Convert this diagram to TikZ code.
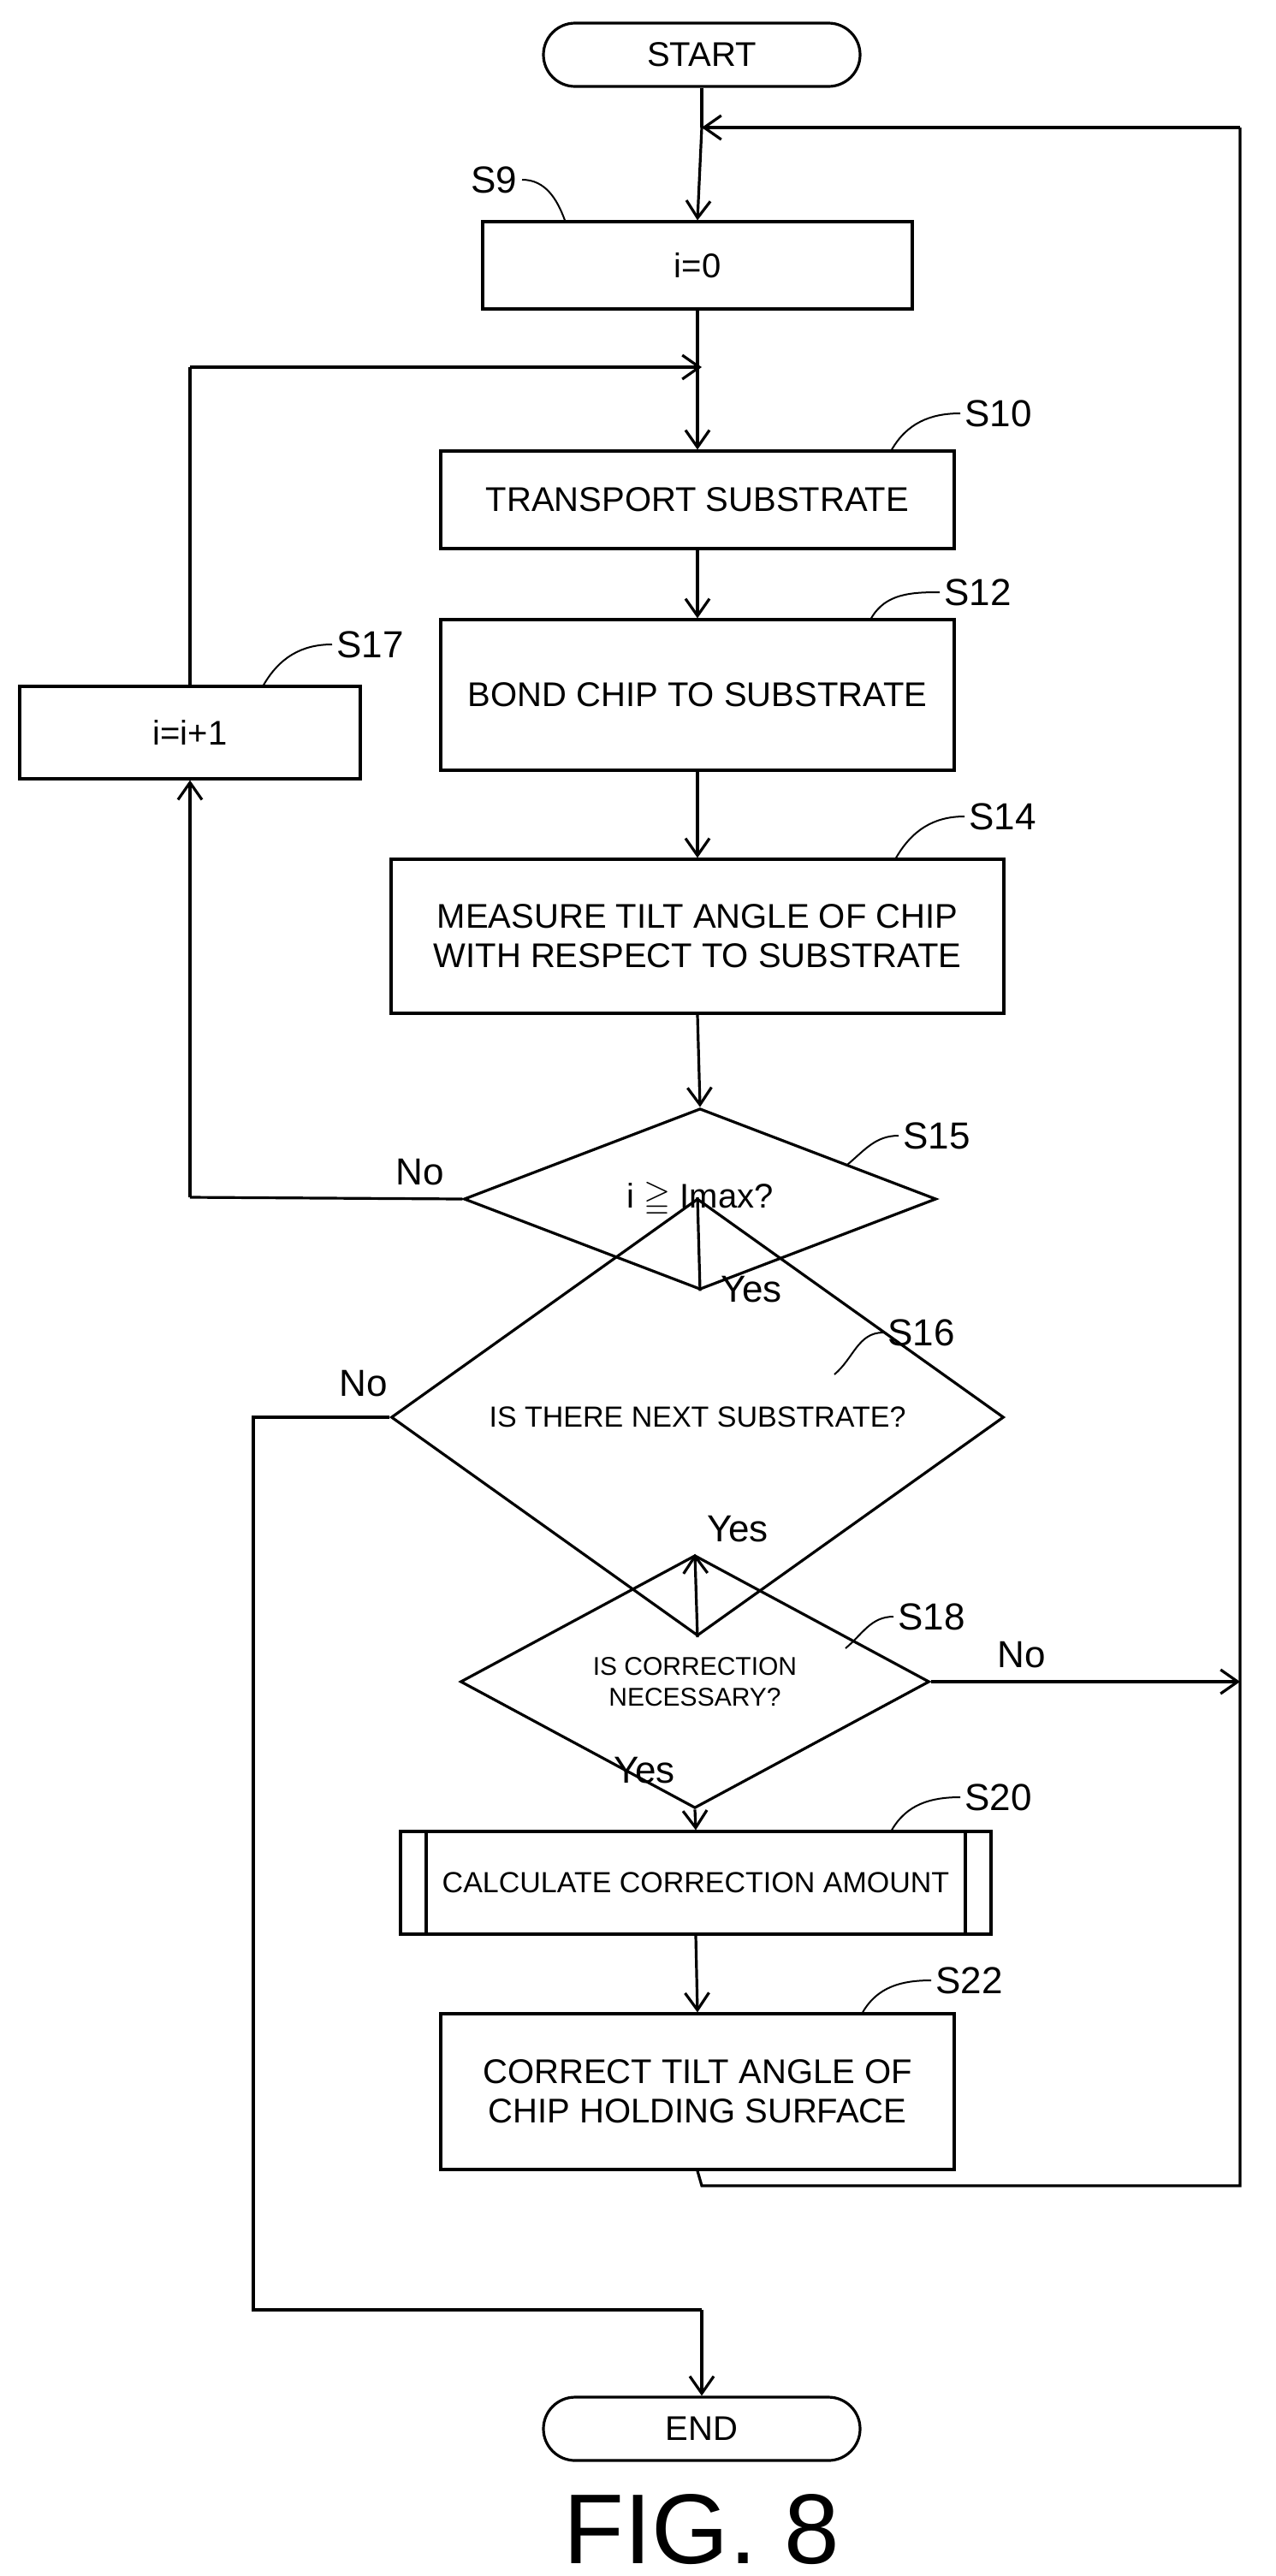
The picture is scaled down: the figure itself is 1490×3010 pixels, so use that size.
\documentclass[tikz,border=0pt]{standalone}
\usepackage{amssymb}
\usepackage{fontspec}
\setmainfont{Liberation Sans}
\usetikzlibrary{shapes.geometric,shapes.misc,arrows.meta}
\begin{document}
\begin{tikzpicture}[x=0.5pt,y=-0.5pt,line width=1.6pt,
 every node/.style={font=\fontsize{20}{23}\selectfont},
 box/.style={draw,rectangle,align=center,inner sep=0pt},
 term/.style={draw,rounded rectangle,inner sep=0pt,minimum width=185pt,minimum height=37pt},
 dia/.style={draw,diamond,inner sep=0pt,align=center},
 arr/.style={-{Straight Barb[length=10pt,width=14pt]}},
 lbl/.style={font=\fontsize{22}{24}\selectfont,anchor=west,inner sep=2pt},
 lead/.style={line width=1pt},
 yn/.style={font=\fontsize{22}{24}\selectfont}]
\useasboundingbox (0,0) rectangle (1490,3010);
\node[term] (start) at (820,64) {START};
\node[box,minimum width=251pt,minimum height=51pt] (s9) at (815,310) {i=0};
\node[box,minimum width=300pt,minimum height=57pt] (s10) at (815,584) {TRANSPORT SUBSTRATE};
\node[box,minimum width=300pt,minimum height=88pt] (s12) at (815,812) {BOND CHIP TO SUBSTRATE};
\node[box,minimum width=358pt,minimum height=90pt] (s14) at (815,1094) {MEASURE TILT ANGLE OF CHIP\\WITH RESPECT TO SUBSTRATE};
\node[dia,minimum width=276pt,minimum height=80pt] (s15) at (818,1401) {i $\geqq$ Imax?};
\node[box,minimum width=199pt,minimum height=54pt] (s17) at (222,856) {i=i+1};
\node[dia,minimum width=358pt,minimum height=91pt,font=\fontsize{17}{19}\selectfont] (s16) at (815,1656) {IS THERE NEXT SUBSTRATE?};
\node[dia,minimum width=274pt,minimum height=82pt,font=\fontsize{15}{18}\selectfont] (s18) at (812,1965) {IS CORRECTION\\NECESSARY?};
\node[box,minimum width=345pt,minimum height=60pt,font=\fontsize{17}{19}\selectfont] (s20) at (813,2200) {CALCULATE CORRECTION AMOUNT};
\coordinate (p1t) at (498,2139); \coordinate (p1b) at (498,2260);
\coordinate (p2t) at (1128,2139); \coordinate (p2b) at (1128,2260);
\draw (p1t) -- (p1b) (p2t) -- (p2b);
\node[box,minimum width=300pt,minimum height=91pt] (s22) at (815,2444) {CORRECT TILT ANGLE OF\\CHIP HOLDING SURFACE};
\node[term] (end) at (820,2838) {END};
\node[font=\fontsize{58}{62}\selectfont] (fig) at (820,2956) {FIG. 8};
% coordinates
\coordinate (top) at (820,149);
\coordinate (rt) at (1449,149);
\coordinate (loop) at (820,429);
\coordinate (lx) at (222,429);
\coordinate (nx15) at (222,1399);
\coordinate (lx16) at (296,1656);
\coordinate (bot16) at (296,2699);
\coordinate (endin) at (820,2699);
\coordinate (s22b) at (820,2554);
\coordinate (rb) at (1449,2554);
\coordinate (s18r) at (1449,1965);
% flow
\draw (start.south) -- (top);
\draw[arr] (top) -- (s9.north);
\draw[arr] (s9.south) -- (s10.north);
\draw[arr] (s10.south) -- (s12.north);
\draw[arr] (s12.south) -- (s14.north);
\draw[arr] (s14.south) -- (s15.north);
\draw (s15.south) -- (s16.north);
\draw[arr] (s16.south) -- (s18.north);
\draw[arr] (s18.south) -- (s20.north);
\draw[arr] (s20.south) -- (s22.north);
\draw (s22.south) -- (s22b) -- (rb) -- (rt);
\draw[arr] (rt) -- (top);
\draw[arr] (s18.east) -- (s18r);
\draw (s15.west) -- (nx15);
\draw[arr] (nx15) -- (s17.south);
\draw (s17.north) -- (lx);
\draw[arr] (lx) -- (loop);
\draw (s16.west) -- (lx16) -- (bot16) -- (endin);
\draw[arr] (endin) -- (end.north);
% yes/no
\node[yn] at (491,1370) {No};
\node[yn] at (878,1507) {Yes};
\node[yn] at (425,1617) {No};
\node[yn] at (862,1787) {Yes};
\node[yn] at (1194,1934) {No};
\node[yn] at (753,2069) {Yes};
% step labels with leaders
\node[lbl] (l9) at (545,210) {S9};
\draw[lead] (l9.east) to[out=0,in=110] ([xshift=25]l9.east |- s9.north);
\node[lbl] (l10) at (1122,483) {S10};
\draw[lead] (l10.west) to[out=180,in=60] ([xshift=-40]l10.west |- s10.north);
\node[lbl] (l12) at (1098,692) {S12};
\draw[lead] (l12.west) to[out=180,in=60] ([xshift=-40]l12.west |- s12.north);
\node[lbl] (l17) at (388,753) {S17};
\draw[lead] (l17.west) to[out=180,in=60] ([xshift=-40]l17.west |- s17.north);
\node[lbl] (l14) at (1127,954) {S14};
\draw[lead] (l14.west) to[out=180,in=60] ([xshift=-40]l14.west |- s14.north);
\node[lbl] (l15) at (1050,1327) {S15};
\draw[lead] (l15.west) to[out=180,in=40] (990,1361);
\node[lbl] (l16) at (1032,1557) {S16};
\draw[lead] (l16.west) to[out=180,in=40] (975,1606);
\node[lbl] (l18) at (1044,1889) {S18};
\draw[lead] (l18.west) to[out=180,in=40] (988,1926);
\node[lbl] (l20) at (1122,2100) {S20};
\draw[lead] (l20.west) to[out=180,in=60] ([xshift=-40]l20.west |- s20.north);
\node[lbl] (l22) at (1088,2314) {S22};
\draw[lead] (l22.west) to[out=180,in=60] ([xshift=-40]l22.west |- s22.north);
\end{tikzpicture}
\end{document}
